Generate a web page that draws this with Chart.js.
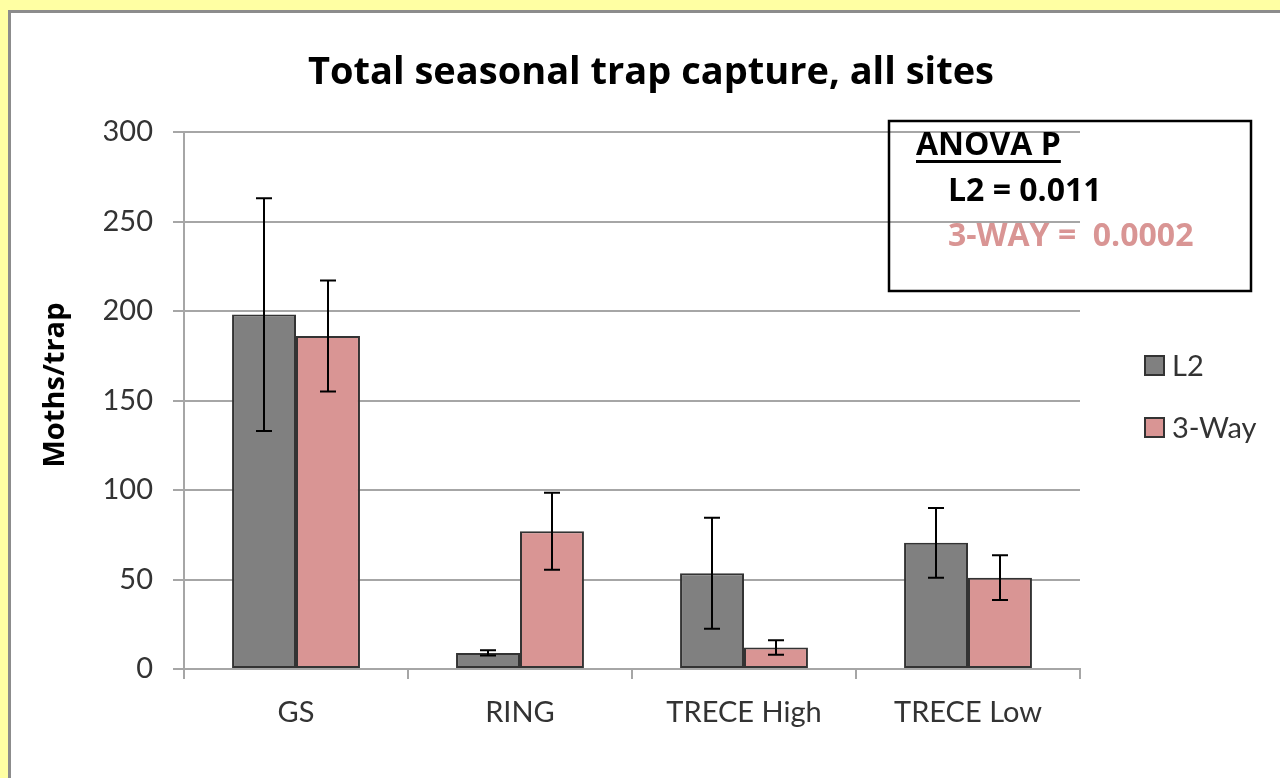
<!DOCTYPE html>
<html lang="en">
<head>
    <meta charset="UTF-8">
    <title>Total seasonal trap capture</title>
    <script src="https://cdn.jsdelivr.net/npm/chart.js"></script>
    <style>
        body {
            margin: 0;
            padding: 0;
            background-color: #FFFFA3;
        }
        #wrap {
            position: absolute;
            left: 0;
            top: 0;
            width: 1280px;
            height: 778px;
        }
    </style>
</head>
<body>
    <div id="wrap"><canvas id="chart" width="1280" height="778"></canvas></div>
    <script>
        // chart data
        const categories = ["GS", "RING", "TRECE High", "TRECE Low"];
        const l2Values = [198, 9, 53.5, 70.5];
        const l2Errors = [65, 1.5, 31, 19.5];
        const threeWayValues = [186, 77, 12, 51];
        const threeWayErrors = [31, 21.5, 4, 12.5];
        const seriesNames = ["L2", "3-Way"];
        const yTicks = [0, 50, 100, 150, 200, 250, 300];

        const anovaLines = ["ANOVA P", "L2 = 0.011", "3-WAY =  0.0002"];
        const chartTitle = "Total seasonal trap capture, all sites";
        const yTitle = "Moths/trap";

        const grey = "#808080";
        const pink = "#D99594";
        const font = "Lato, 'Open Sans', sans-serif";
        const boldFont = "'Open Sans', Lato, sans-serif";

        // frame: yellow margin, grey border, white chart area
        const framePlugin = {
            id: "frame",
            beforeDraw(chart) {
                const ctx = chart.ctx;
                ctx.save();
                ctx.fillStyle = "#FFFFA3";
                ctx.fillRect(0, 0, chart.width, chart.height);
                ctx.fillStyle = "#8C8C8C";
                ctx.fillRect(8, 10, chart.width - 8, chart.height - 10);
                ctx.fillStyle = "#fff";
                ctx.fillRect(11, 13, chart.width - 11, chart.height - 13);
                ctx.restore();
            }
        };

        // error bars at each bar center
        const errorBarPlugin = {
            id: "errorBars",
            afterDatasetsDraw(chart) {
                const ctx = chart.ctx;
                const y = chart.scales.y;
                const errs = [l2Errors, threeWayErrors];
                ctx.save();
                ctx.strokeStyle = "#000";
                ctx.lineWidth = 2;
                chart.data.datasets.forEach((ds, i) => {
                    chart.getDatasetMeta(i).data.forEach((bar, j) => {
                        const top = y.getPixelForValue(ds.data[j] + errs[i][j]);
                        const bottom = y.getPixelForValue(ds.data[j] - errs[i][j]);
                        const x = Math.round(bar.x);
                        ctx.beginPath();
                        ctx.moveTo(x, top);
                        ctx.lineTo(x, bottom);
                        ctx.moveTo(x - 8, top);
                        ctx.lineTo(x + 8, top);
                        ctx.moveTo(x - 8, bottom);
                        ctx.lineTo(x + 8, bottom);
                        ctx.stroke();
                    });
                });
                ctx.restore();
            }
        };

        // title, y title, legend and ANOVA box
        const textPlugin = {
            id: "texts",
            afterDraw(chart) {
                const ctx = chart.ctx;
                ctx.save();

                ctx.fillStyle = "#000";
                ctx.font = "bold 38px " + boldFont;
                ctx.textAlign = "center";
                ctx.textBaseline = "alphabetic";
                ctx.fillText(chartTitle, 651, 84);

                ctx.save();
                ctx.translate(64, 385);
                ctx.rotate(-Math.PI / 2);
                ctx.font = "bold 29px " + boldFont;
                ctx.fillText(yTitle, 0, 0);
                ctx.restore();

                // legend
                const colors = [grey, pink];
                ctx.textAlign = "left";
                ctx.font = "29px " + font;
                seriesNames.forEach((name, i) => {
                    const top = 356 + i * 62;
                    ctx.fillStyle = colors[i];
                    ctx.fillRect(1145, top, 19, 19);
                    ctx.strokeStyle = "#333";
                    ctx.lineWidth = 2;
                    ctx.strokeRect(1145, top, 19, 19);
                    ctx.fillStyle = "#333";
                    ctx.fillText(name, 1172, top + 20);
                });

                // ANOVA box
                ctx.strokeStyle = "#000";
                ctx.lineWidth = 2.5;
                ctx.strokeRect(889, 121, 362, 170);
                ctx.font = "bold 32px " + boldFont;
                ctx.fillStyle = "#000";
                ctx.fillText(anovaLines[0], 916, 155);
                const w = ctx.measureText(anovaLines[0]).width;
                ctx.fillRect(916, 160, w, 3);
                ctx.fillText(anovaLines[1], 948, 201);
                ctx.fillStyle = pink;
                ctx.fillText(anovaLines[2], 948, 246);

                ctx.restore();
            }
        };

        new Chart(document.getElementById("chart"), {
            type: "bar",
            data: {
                labels: categories,
                datasets: [
                    {
                        label: seriesNames[0],
                        data: l2Values,
                        backgroundColor: grey,
                        borderColor: "#333",
                        borderWidth: 2,
                        borderSkipped: false,
                        categoryPercentage: 0.571,
                        barPercentage: 1.0
                    },
                    {
                        label: seriesNames[1],
                        data: threeWayValues,
                        backgroundColor: pink,
                        borderColor: "#333",
                        borderWidth: 2,
                        borderSkipped: false,
                        categoryPercentage: 0.571,
                        barPercentage: 1.0
                    }
                ]
            },
            options: {
                responsive: false,
                animation: false,
                layout: {
                    padding: { left: 104, right: 200, top: 132, bottom: 49 }
                },
                plugins: {
                    legend: { display: false },
                    title: { display: false },
                    tooltip: { enabled: false }
                },
                scales: {
                    x: {
                        afterFit: (s) => { s.height = 60; },
                        grid: {
                            offset: true,
                            drawOnChartArea: false,
                            drawTicks: true,
                            tickLength: 10,
                            color: "#A6A6A6",
                            lineWidth: 2
                        },
                        border: { color: "#A6A6A6", width: 2 },
                        ticks: {
                            color: "#333",
                            font: { family: font, size: 29 },
                            padding: 16,
                            maxRotation: 0
                        }
                    },
                    y: {
                        min: 0,
                        max: 300,
                        afterFit: (s) => { s.width = 80; },
                        afterBuildTicks: (s) => { s.ticks = yTicks.map(v => ({ value: v })); },
                        grid: {
                            drawTicks: true,
                            tickLength: 11,
                            color: "#A6A6A6",
                            lineWidth: 2
                        },
                        border: { color: "#A6A6A6", width: 2 },
                        ticks: {
                            color: "#333",
                            font: { family: font, size: 29 },
                            padding: 20
                        }
                    }
                }
            },
            plugins: [framePlugin, errorBarPlugin, textPlugin]
        });
    </script>
</body>
</html>
